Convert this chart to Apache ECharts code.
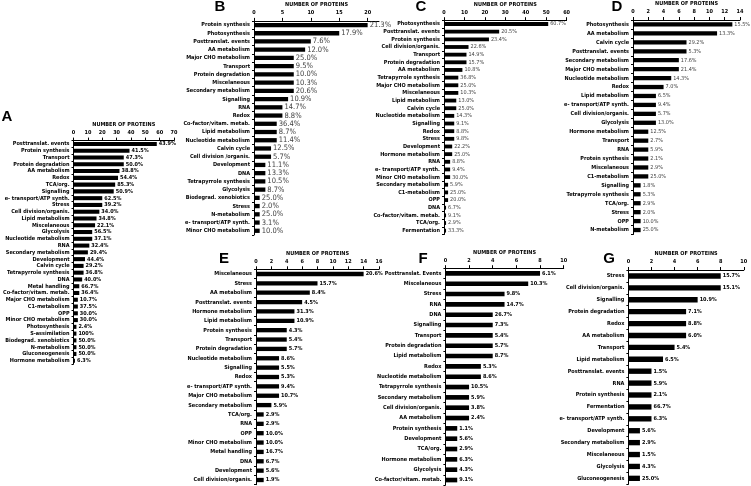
<!DOCTYPE html>
<html>
<head>
<meta charset="utf-8">
<script src="https://cdn.jsdelivr.net/npm/echarts@6/dist/echarts.min.js"></script>
<style>
  html, body { margin: 0; background: #fff; }
  #main { width: 751px; height: 486px; }
</style>
</head>
<body>
<div id="main"></div>
<script>
// ---- data (number of proteins per functional category, % labels) ----
const catsA = ['Posttranslat. events', 'Protein synthesis', 'Transport', 'Protein degradation', 'AA metabolism', 'Redox', 'TCA/org.', 'Signalling', 'e- transport/ATP synth.', 'Stress', 'Cell division/organis.', 'Lipid metabolism', 'Miscelaneous', 'Glycolysis', 'Nucleotide metabolism', 'RNA', 'Secondary metabolism', 'Development', 'Calvin cycle', 'Tetrapyrrole synthesis', 'DNA', 'Metal handling', 'Co-factor/vitam. metab.', 'Major CHO metabolism', 'C1-metabolism', 'OPP', 'Minor CHO metabolism', 'Photosynthesis', 'S-assimilation', 'Biodegrad. xenobiotics', 'N-metabolism', 'Gluconeogenesis', 'Hormone metabolism'];
const countsA = [58, 39, 35, 35, 32, 31, 29, 28, 20, 20, 18, 16, 15, 13, 13, 11, 10, 8, 7, 7, 6, 4, 4, 3, 3, 3, 3, 2, 2, 2, 2, 2, 1];
const pctA = ['43.9%', '41.5%', '47.3%', '50.0%', '38.8%', '54.4%', '85.3%', '50.9%', '62.5%', '39.2%', '34.0%', '34.8%', '22.1%', '56.5%', '37.1%', '32.4%', '29.4%', '44.4%', '29.2%', '36.8%', '40.0%', '66.7%', '36.4%', '10.7%', '37.5%', '30.0%', '30.0%', '2.4%', '100%', '50.0%', '50.0%', '50.0%', '6.3%'];

const catsB = ['Protein synthesis', 'Photosynthesis', 'Posttranslat. events', 'AA metabolism', 'Major CHO metabolism', 'Transport', 'Protein degradation', 'Miscelaneous', 'Secondary metabolism', 'Signalling', 'RNA', 'Redox', 'Co-factor/vitam. metab.', 'Lipid metabolism', 'Nucleotide metabolism', 'Calvin cycle', 'Cell division /organis.', 'Development', 'DNA', 'Tetrapyrrole synthesis', 'Glycolysis', 'Biodegrad. xenobiotics', 'Stress', 'N-metabolism', 'e- transport/ATP synth.', 'Minor CHO metabolism'];
const countsB = [20, 15, 10, 9, 7, 7, 7, 7, 7, 6, 5, 5, 4, 4, 4, 3, 3, 2, 2, 2, 2, 1, 1, 1, 1, 1];
const pctB = ['21.3%', '17.9%', '7.6%', '12.0%', '25.0%', '9.5%', '10.0%', '10.3%', '20.6%', '10.9%', '14.7%', '8.8%', '36.4%', '8.7%', '11.4%', '12.5%', '5.7%', '11.1%', '13.3%', '10.5%', '8.7%', '25.0%', '2.0%', '25.0%', '3.1%', '10.0%'];

const catsC = ['Photosynthesis', 'Posttranslat. events', 'Protein synthesis', 'Cell division/organis.', 'Transport', 'Protein degradation', 'AA metabolism', 'Tetrapyrrole synthesis', 'Major CHO metabolism', 'Miscelaneous', 'Lipid metabolism', 'Calvin cycle', 'Nucleotide metabolism', 'Signalling', 'Redox', 'Stress', 'Development', 'Hormone metabolism', 'RNA', 'e- transport/ATP synth.', 'Minor CHO metabolism', 'Secondary metabolism', 'C1-metabolism', 'OPP', 'DNA', 'Co-factor/vitam. metab.', 'TCA/org.', 'Fermentation'];
const countsC = [51, 27, 22, 12, 11, 11, 9, 7, 7, 7, 6, 6, 5, 5, 5, 5, 4, 4, 3, 3, 3, 2, 2, 2, 1, 1, 1, 1];
const pctC = ['60.7%', '20.5%', '23.4%', '22.6%', '14.9%', '15.7%', '10.8%', '36.8%', '25.0%', '10.3%', '13.0%', '25.0%', '14.3%', '9.1%', '8.8%', '9.8%', '22.2%', '25.0%', '8.8%', '9.4%', '30.0%', '5.9%', '25.0%', '20.0%', '6.7%', '9.1%', '2.9%', '33.3%'];

const catsD = ['Photosynthesis', 'AA metabolism', 'Calvin cycle', 'Posttranslat. events', 'Secondary metabolism', 'Major CHO metabolism', 'Nucleotide metabolism', 'Redox', 'Lipid metabolism', 'e- transport/ATP synth.', 'Cell division/organis.', 'Glycolysis', 'Hormone metabolism', 'Transport', 'RNA', 'Protein synthesis', 'Miscelaneous', 'C1-metabolism', 'Signalling', 'Tetrapyrrole synthesis', 'TCA/org.', 'Stress', 'OPP', 'N-metabolism'];
const countsD = [13, 11, 7, 7, 6, 6, 5, 4, 3, 3, 3, 3, 2, 2, 2, 2, 2, 2, 1, 1, 1, 1, 1, 1];
const pctD = ['15.5%', '13.3%', '29.2%', '5.3%', '17.6%', '21.4%', '14.3%', '7.0%', '6.5%', '9.4%', '5.7%', '13.0%', '12.5%', '2.7%', '5.9%', '2.1%', '2.9%', '25.0%', '1.8%', '5.3%', '2.9%', '2.0%', '10.0%', '25.0%'];

const catsE = ['Miscelaneous', 'Stress', 'AA metabolism', 'Posttranslat. events', 'Hormone metabolism', 'Lipid metabolism', 'Protein synthesis', 'Transport', 'Protein degradation', 'Nucleotide metabolism', 'Signalling', 'Redox', 'e- transport/ATP synth.', 'Major CHO metabolism', 'Secondary metabolism', 'TCA/org.', 'RNA', 'OPP', 'Minor CHO metabolism', 'Metal handling', 'DNA', 'Development', 'Cell division/organis.'];
const countsE = [14, 8, 7, 6, 5, 5, 4, 4, 4, 3, 3, 3, 3, 3, 2, 1, 1, 1, 1, 1, 1, 1, 1];
const pctE = ['20.6%', '15.7%', '8.4%', '4.5%', '31.3%', '10.9%', '4.3%', '5.4%', '5.7%', '8.6%', '5.5%', '5.3%', '9.4%', '10.7%', '5.9%', '2.9%', '2.9%', '10.0%', '10.0%', '16.7%', '6.7%', '5.6%', '1.9%'];

const catsF = ['Posttranslat. Events', 'Miscelaneous', 'Stress', 'RNA', 'DNA', 'Signalling', 'Transport', 'Protein degradation', 'Lipid metabolism', 'Redox', 'Nucleotide metabolism', 'Tetrapyrrole synthesis', 'Secondary metabolism', 'Cell division/organis.', 'AA metabolism', 'Protein synthesis', 'Development', 'TCA/org.', 'Hormone metabolism', 'Glycolysis', 'Co-factor/vitam. metab.'];
const countsF = [8, 7, 5, 5, 4, 4, 4, 4, 4, 3, 3, 2, 2, 2, 2, 1, 1, 1, 1, 1, 1];
const pctF = ['6.1%', '10.3%', '9.8%', '14.7%', '26.7%', '7.3%', '5.4%', '5.7%', '8.7%', '5.3%', '8.6%', '10.5%', '5.9%', '3.8%', '2.4%', '1.1%', '5.6%', '2.9%', '6.3%', '4.3%', '9.1%'];

const catsG = ['Stress', 'Cell division/organis.', 'Signalling', 'Protein degradation', 'Redox', 'AA metabolism', 'Transport', 'Lipid metabolism', 'Posttranslat. events', 'RNA', 'Protein synthesis', 'Fermentation', 'e- transport/ATP synth.', 'Development', 'Secondary metabolism', 'Miscelaneous', 'Glycolysis', 'Gluconeogenesis'];
const countsG = [8, 8, 6, 5, 5, 5, 4, 3, 2, 2, 2, 2, 2, 1, 1, 1, 1, 1];
const pctG = ['15.7%', '15.1%', '10.9%', '7.1%', '8.8%', '6.0%', '5.4%', '6.5%', '1.5%', '5.9%', '2.1%', '66.7%', '6.3%', '5.6%', '2.9%', '1.5%', '4.3%', '25.0%'];

// ---- layout of the seven panels ----
const FONT = "'Liberation Sans Narrow','DejaVu Sans Condensed','Liberation Sans',sans-serif";
const panels = [
  { name: 'A', cats: catsA, counts: countsA, pct: pctA, max: 70, step: 10, left: 60, top: 140.6, width: 114, height: 223.5, bar: '60%', letter: [7, 117], pctSize: 5.5, pctColor: '#000', pctWeight: 'bold' },
  { name: 'B', cats: catsB, counts: countsB, pct: pctB, max: 22, step: 5, left: 254, top: 20.9, width: 125, height: 214, bar: '52%', letter: [220, 7], pctSize: 7.5, pctColor: '#404040', pctWeight: 'normal' },
  { name: 'C', cats: catsC, counts: countsC, pct: pctC, max: 60, step: 10, left: 444, top: 20.2, width: 122.6, height: 214.3, bar: '50%', letter: [421, 7], pctSize: 5.5, pctColor: '#404040', pctWeight: 'normal' },
  { name: 'D', cats: catsD, counts: countsD, pct: pctD, max: 14, step: 2, left: 633, top: 19.8, width: 107, height: 214.7, bar: '48%', letter: [617, 7], pctSize: 5.5, pctColor: '#404040', pctWeight: 'normal' },
  { name: 'E', cats: catsE, counts: countsE, pct: pctE, max: 16, step: 2, left: 256, top: 269.3, width: 123, height: 215.4, bar: '46%', letter: [224, 259], pctSize: 5.5, pctColor: '#000', pctWeight: 'bold' },
  { name: 'F', cats: catsF, counts: countsF, pct: pctF, max: 10, step: 2, left: 445.4, top: 268.2, width: 118.3, height: 217, bar: '45%', letter: [423, 259], pctSize: 5.5, pctColor: '#000', pctWeight: 'bold' },
  { name: 'G', cats: catsG, counts: countsG, pct: pctG, max: 10, step: 2, left: 628.4, top: 270, width: 115.4, height: 214.3, bar: '45%', letter: [609, 259], pctSize: 5.5, pctColor: '#000', pctWeight: 'bold' }
];

const grid = [], xAxis = [], yAxis = [], series = [], graphic = [];
panels.forEach((p, i) => {
  grid.push({ left: p.left, top: p.top, width: p.width, height: p.height });
  xAxis.push({
    gridIndex: i, type: 'value', position: 'top', min: 0, max: p.max, interval: p.step,
    axisLine: { show: true, lineStyle: { color: '#000', width: 1 } },
    axisTick: { show: true, length: 3, lineStyle: { color: '#000' } },
    axisLabel: { fontSize: 5.5, fontWeight: 'bold', fontFamily: FONT, color: '#000', margin: 5, showMaxLabel: p.max % p.step === 0 },
    splitLine: { show: false },
    name: 'NUMBER OF PROTEINS', nameLocation: 'middle', nameGap: 13,
    nameTextStyle: { fontSize: 5.5, fontWeight: 'bold', fontFamily: FONT, color: '#000' }
  });
  yAxis.push({
    gridIndex: i, type: 'category', inverse: true, data: p.cats,
    axisLine: { show: true, lineStyle: { color: '#000', width: 1 } },
    axisTick: { show: true, length: 2, lineStyle: { color: '#000' } },
    axisLabel: { interval: 0, fontSize: 5.5, fontWeight: 'bold', fontFamily: FONT, color: '#000', margin: 4 }
  });
  series.push({
    type: 'bar', xAxisIndex: i, yAxisIndex: i, data: p.counts, barWidth: p.bar,
    itemStyle: { color: '#000' },
    label: {
      show: true, position: 'right', distance: 2,
      fontSize: p.pctSize, fontFamily: FONT, color: p.pctColor, fontWeight: p.pctWeight,
      formatter: (d) => p.pct[d.dataIndex]
    }
  });
  graphic.push({
    type: 'text', x: p.letter[0], y: p.letter[1],
    style: { text: p.name, fill: '#000', font: 'bold 15px "Liberation Sans", sans-serif', textAlign: 'center', textVerticalAlign: 'middle' }
  });
});

const chart = echarts.init(document.getElementById('main'));
chart.setOption({
  animation: false,
  backgroundColor: '#fff',
  grid, xAxis, yAxis, series, graphic
});
</script>
</body>
</html>
